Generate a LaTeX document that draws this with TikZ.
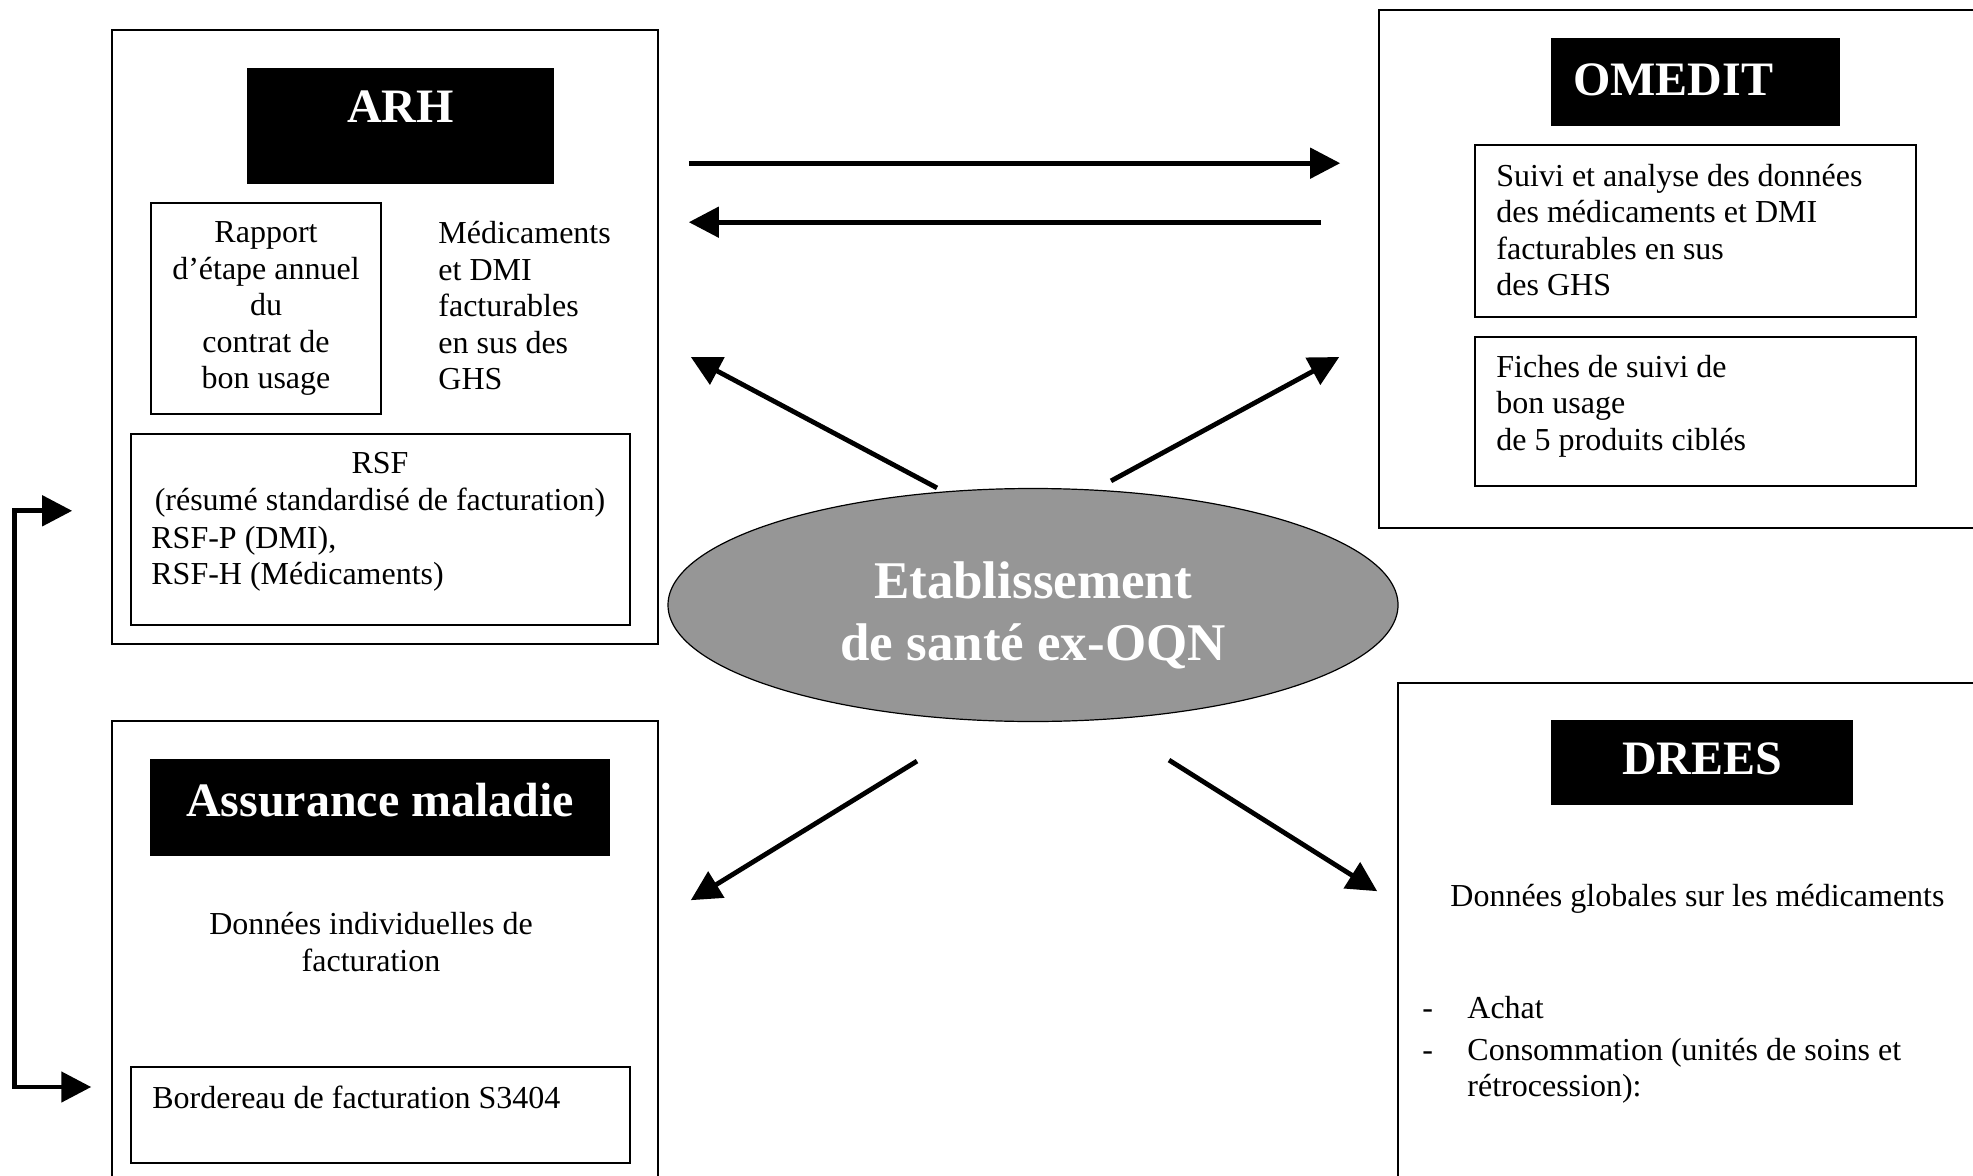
\documentclass[tikz,border=0pt]{standalone}
\usepackage{fontspec}
\setmainfont{Liberation Serif}
\usepackage{tikz}
\usetikzlibrary{calc, arrows.meta, shapes.geometric}

\definecolor{etabgray}{RGB}{150,150,150}
\newcommand{\bodyfont}{\fontsize{16}{18.25}\selectfont}
\newcommand{\boxtitlefont}{\fontsize{24}{28}\selectfont\bfseries}
\newcommand{\etabfont}{\fontsize{26.5}{31}\selectfont\bfseries}

\tikzset{
  outerbox/.style={rectangle, draw=black, line width=0.8pt, inner sep=0pt},
  innerbox/.style={rectangle, draw=black, line width=0.75pt, inner sep=0pt},
  titlebox/.style={rectangle, fill=black, text=white, inner sep=0pt, font=\boxtitlefont},
  bodytext/.style={inner sep=0pt, font=\bodyfont},
  flow/.style={line width=2.4pt, -{Triangle[length=15pt, width=15pt]}}
}

\begin{document}
\begin{tikzpicture}[x=0.5pt, y=-0.5pt]
        \useasboundingbox (0,0) rectangle (1973,1176);

        %% ARH
        \node (arh) [outerbox, minimum width=273pt, minimum height=307pt] at (385,337) {};
        \node (arhTitle) [titlebox, minimum width=153.5pt, text height=27.25pt, text depth=30.75pt] at (400.5,126) {ARH};
        \node (rapport) [innerbox, bodytext, align=center, minimum width=115pt, minimum height=105.5pt] at (266,308.5) {Rapport\\d’étape annuel\\du\\contrat de\\bon usage};
        \node (medic) [bodytext, anchor=west, align=left] at (438,306) {Médicaments\\et DMI\\facturables\\en sus des\\GHS};
        \node (rsf) [innerbox, minimum width=249.5pt, minimum height=95.5pt] at (380.5,529.5) {};
        \node (rsfHead) [bodytext, align=center] at (380,485) {RSF\\(résumé standardisé de facturation)};
        \node (rsfList) [bodytext, anchor=west, align=left] at (151,559) {RSF-P (DMI),\\RSF-H (Médicaments)};

        %% Assurance maladie
        \node (assur) [outerbox, minimum width=273pt, minimum height=234.5pt] at (385,955.5) {};
        \node (assurTitle) [titlebox, minimum width=230pt, text height=28.75pt, text depth=19.75pt] at (380,807.5) {Assurance maladie};
        \node (indiv) [bodytext, align=center] at (371,942) {Données individuelles de\\facturation};
        \node (bord) [innerbox, minimum width=249.5pt, minimum height=48pt] at (380.5,1115) {};
        \node (bordText) [bodytext, anchor=west] at (152,1097) {Bordereau de facturation S3404};

        %% OMEDIT
        \node (omedit) [outerbox, minimum width=305.5pt, minimum height=259pt] at (1684.5,269) {};
        \node (omeditTitle) [titlebox, text width=122.5pt, inner xsep=11pt, align=flush left, text height=29pt, text depth=15pt] at (1695.5,82) {OMEDIT};
        \node (suivi) [innerbox, minimum width=220.5pt, minimum height=86pt] at (1695.5,231) {};
        \node (suiviText) [bodytext, anchor=west, align=left] at (1496,230) {Suivi et analyse des données\\des médicaments et DMI\\facturables en sus\\des GHS};
        \node (fiches) [innerbox, minimum width=220.5pt, minimum height=74.5pt] at (1695.5,411.5) {};
        \node (fichesText) [bodytext, anchor=west, align=left] at (1496,406) {Fiches de suivi de\\bon usage\\de 5 produits ciblés};

        %% DREES
        \node (drees) [outerbox, minimum width=296pt, minimum height=253.5pt] at (1694,936.5) {};
        \node (dreesTitle) [titlebox, minimum width=151pt, text height=27pt, text depth=15.5pt] at (1702,762.5) {DREES};
        \node (globales) [bodytext, anchor=west] at (1450,899) {Données globales sur les médicaments};
        \node (dreesList) [bodytext, anchor=west, align=left] at (1422,1050) {\makebox[22.5pt][l]{-}Achat\\[2.5pt]\makebox[22.5pt][l]{-}Consommation (unités de soins et\\\hspace*{22.5pt}rétrocession):};

        %% Etablissement
        \node (etab) [ellipse, draw=black, line width=0.6pt, fill=etabgray, minimum width=365pt, minimum height=116.5pt, inner sep=0pt] at (1033,605) {};
        \node (etabText) [text=white, align=center, inner sep=0pt, font=\etabfont] at ($(etab.center) + (0,10)$) {Etablissement\\de santé ex-OQN};

        %% Arrows
        \draw [flow] ($(arh.north east) + (30,134)$) -- ($(omedit.north west) + (-38,154)$);
        \draw [flow] ($(omedit.north west) + (-57,213)$) -- ($(arh.north east) + (30,193)$);
        \draw [flow] ($(etab.north) + (-96,0)$) -- ($(arh.east) + (32,20)$);
        \draw [flow] ($(etab.north) + (78,-7)$) -- ($(omedit.west) + (-39,88)$);
        \draw [flow] ($(etab.south) + (-116,39)$) -- ($(assur.north east) + (32,180)$);
        \draw [flow] ($(etab.south) + (136,38)$) -- ($(drees.north west) + (-20,209)$);

        %% link between ARH and Assurance maladie
        \draw [flow, {Triangle[length=15pt, width=15pt]}-{Triangle[length=15pt, width=15pt]}] ($(arh.south west) + (-39,-134)$) -- ++(-58,0) |- ($(bord.west) + (-39,-28)$);

\end{tikzpicture}
\end{document}
